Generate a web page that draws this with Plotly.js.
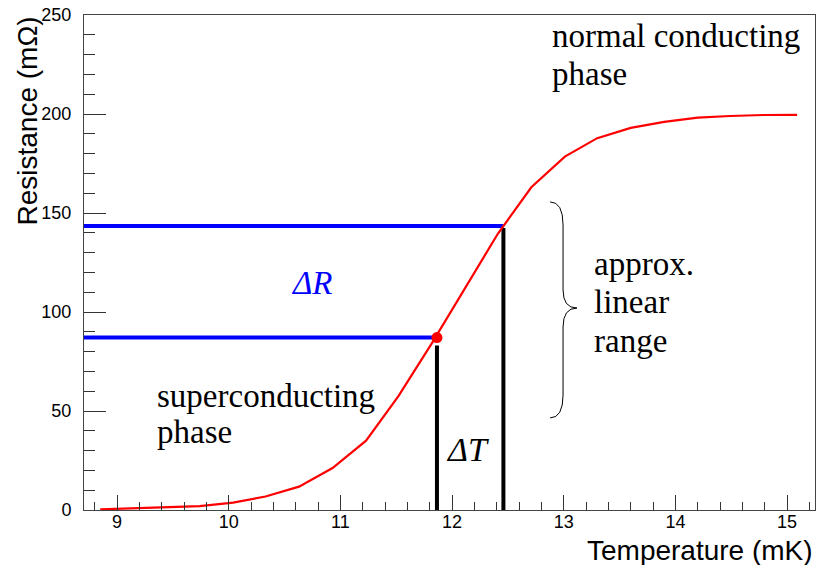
<!DOCTYPE html>
<html>
<head>
<meta charset="utf-8">
<script src="https://cdn.plot.ly/plotly-3.0.1.min.js"></script>
<style>html,body{margin:0;padding:0;background:#fff;}#chart{width:816px;height:565px;}</style>
</head>
<body>
<div id="chart"></div>
<script>
// ---- data ----
const temperature = [8.85, 9.15, 9.44, 9.74, 10.04, 10.33, 10.63, 10.93, 11.23, 11.52, 11.82,
                     12.12, 12.41, 12.71, 13.01, 13.30, 13.60, 13.90, 14.20, 14.49, 14.79, 15.09];
const resistance  = [0.3, 0.8, 1.6, 2.0, 3.7, 6.8, 11.8, 21.2, 35.0, 57.5, 84.3,
                     112.5, 139.5, 163.0, 178.5, 187.8, 193.0, 196.0, 198.2, 199.0, 199.5, 199.6];
// operating point and upper end of the approx. linear range
const markT = [11.865, 12.46];
const markR = [87.1, 143.4];
const xTickVals = [9, 10, 11, 12, 13, 14, 15];
const yTickVals = [0, 50, 100, 150, 200, 250];
const xRange = [8.7045, 15.25];
const yRange = [0, 250];

// brace (data coordinates)
const braceX = 12.878, braceStem = 12.994, braceTip = 13.119;
const braceTop = 155.6, braceTopCurve = 143.9, braceMidUp = 111.1, braceMid = 102.0,
      braceMidDown = 92.4, braceBotCurve = 58.1, braceBottom = 46.5;

const serif = 'Liberation Serif, Times New Roman, serif';
const sans = 'Liberation Sans, Arial, Helvetica, sans-serif';

const traces = [
  // blue horizontal lines (Delta R)
  {x: [xRange[0], markT[0]], y: [markR[0], markR[0]], mode: 'lines', line: {color: '#0000ff', width: 4}, hoverinfo: 'skip'},
  {x: [xRange[0], markT[1]], y: [markR[1], markR[1]], mode: 'lines', line: {color: '#0000ff', width: 4}, hoverinfo: 'skip'},
  // black vertical lines (Delta T)
  {x: [markT[0], markT[0]], y: [0, markR[0] - 4], mode: 'lines', line: {color: '#000000', width: 4}, hoverinfo: 'skip'},
  {x: [markT[1], markT[1]], y: [0, markR[1] - 1], mode: 'lines', line: {color: '#000000', width: 4}, hoverinfo: 'skip'},
  // R(T) curve
  {x: temperature, y: resistance, mode: 'lines', line: {color: '#ff0000', width: 2.2}},
  // operating point
  {x: [markT[0]], y: [markR[0]], mode: 'markers', marker: {color: '#ff0000', size: 11}}
];

function ann(text, x, y, opts) {
  return Object.assign({text: text, x: x, y: y, xref: 'x', yref: 'y', showarrow: false,
    xanchor: 'left', yanchor: 'middle', font: {family: serif, size: 33, color: '#000'}}, opts || {});
}

const annotations = [
  ann('normal conducting', 12.878, 239.4),
  ann('phase', 12.878, 220.2),
  ann('superconducting', 9.34, 57.6),
  ann('phase', 9.34, 39.4),
  ann('approx.', 13.254, 124.2),
  ann('linear', 13.254, 105.0),
  ann('range', 13.254, 85.4),
  ann('<i>ΔR</i>', 10.75, 114.6, {xanchor: 'center', font: {family: serif, size: 33, color: '#0000ff'}}),
  ann('<i>ΔT</i>', 12.14, 30.8, {xanchor: 'center', font: {family: serif, size: 34, color: '#000'}}),
  // axis titles (ROOT style: at the end of the axes)
  {text: 'Resistance (mΩ)', xref: 'paper', yref: 'paper', x: 0, y: 1, xanchor: 'center', yanchor: 'top',
   xshift: -57, textangle: -90, showarrow: false, font: {family: sans, size: 28, color: '#000'}},
  {text: 'Temperature (mK)', xref: 'paper', yref: 'paper', x: 1, y: 0, xanchor: 'right', yanchor: 'top',
   yshift: -23, showarrow: false, font: {family: sans, size: 28, color: '#000'}}
];

const bracePath = `M ${braceX},${braceTop} Q ${braceStem},${braceTop} ${braceStem},${braceTopCurve} ` +
  `L ${braceStem},${braceMidUp} Q ${braceStem},${braceMid} ${braceTip},${braceMid} ` +
  `Q ${braceStem},${braceMid} ${braceStem},${braceMidDown} L ${braceStem},${braceBotCurve} ` +
  `Q ${braceStem},${braceBottom} ${braceX},${braceBottom}`;

const layout = {
  width: 816, height: 565,
  margin: {l: 84, r: 1, t: 15, b: 55},
  paper_bgcolor: '#fff', plot_bgcolor: '#fff',
  showlegend: false,
  xaxis: {
    range: xRange, tickvals: xTickVals, ticktext: xTickVals.map(String),
    ticks: 'inside', ticklen: 15, tickwidth: 1, tickcolor: '#333',
    minor: {dtick: 0.2, tick0: 9, ticks: 'inside', ticklen: 8, tickwidth: 1, tickcolor: '#333', showgrid: false},
    showgrid: false, zeroline: false, showline: true, mirror: true, linecolor: '#444', linewidth: 1,
    tickfont: {family: sans, size: 18, color: '#000'}, ticklabelstandoff: -5
  },
  yaxis: {
    range: yRange, tickvals: yTickVals, ticktext: yTickVals.map(String),
    ticks: 'inside', ticklen: 22, tickwidth: 1, tickcolor: '#333',
    minor: {dtick: 10, tick0: 0, ticks: 'inside', ticklen: 11, tickwidth: 1, tickcolor: '#333', showgrid: false},
    showgrid: false, zeroline: false, showline: true, mirror: true, linecolor: '#444', linewidth: 1,
    tickfont: {family: sans, size: 18, color: '#000'}, ticklabelstandoff: 8
  },
  shapes: [{type: 'path', path: bracePath, xref: 'x', yref: 'y', line: {color: '#000', width: 1}}],
  annotations: annotations
};

Plotly.newPlot('chart', traces, layout, {displayModeBar: false, staticPlot: true});
</script>
</body>
</html>
